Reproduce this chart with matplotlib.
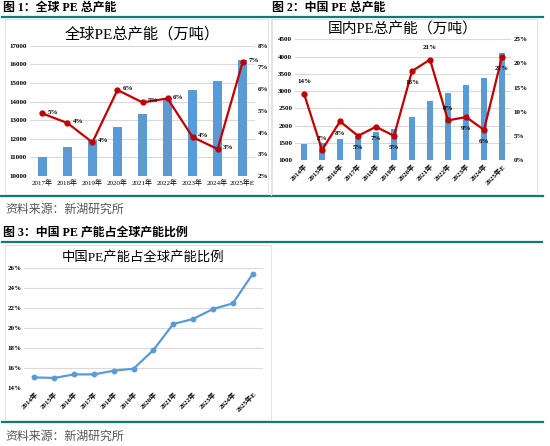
import matplotlib.pyplot as plt
from matplotlib.ticker import FuncFormatter

plt.rcParams['font.family'] = ['Liberation Serif', 'Noto Sans CJK SC', 'DejaVu Sans']

# 图1 全球PE总产能
years1 = ["2017年", "2018年", "2019年", "2020年", "2021年", "2022年", "2023年", "2024年", "2025年E"]
cap1 = [11040, 11540, 11930, 12650, 13330, 14200, 14620, 15100, 16230]
growth1 = [4.88, 4.44, 3.55, 5.96, 5.39, 5.57, 3.79, 3.24, 7.25]

# 图2 国内PE总产能
years2 = ["2014年", "2015年", "2016年", "2017年", "2018年", "2019年", "2020年", "2021年",
          "2022年", "2023年", "2024年", "2025年E"]
cap2 = [1454, 1500, 1609, 1700, 1812, 1909, 2238, 2712, 2934, 3186, 3389, 4095]
growth2 = [13.75, 2.08, 7.99, 5.0, 6.88, 5.0, 18.4, 20.8, 8.2, 8.9, 6.25, 21.4]
label_side2 = [1, 1, -1, -1, -1, -1, -1, 1, 1, -1, -1, -1]

# 图3 中国PE产能占全球产能比例
share3 = [15.03, 14.97, 15.33, 15.33, 15.7, 15.9, 17.77, 20.37, 20.87, 21.87, 22.43, 25.37]

W, H = 550, 446
BLUE = '#5b9bd5'
RED = '#c00000'
TEAL = '#0e7c74'
GRID = '#d9d9d9'
CJK = ['Liberation Serif', 'Noto Sans CJK SC']

fig = plt.figure(figsize=(W / 100, H / 100), dpi=100)


def add_ax(l, t, r, b):
    return fig.add_axes([l / W, 1 - b / H, (r - l) / W, (b - t) / H])


def style(ax):
    for s in ax.spines.values():
        s.set_visible(False)
    ax.tick_params(length=0, labelsize=5, pad=2)
    for lab in ax.get_yticklabels():
        lab.set_fontweight('bold')


pct = FuncFormatter(lambda v, p: f"{v:.0f}%")

# ---- panel 1
ax1 = add_ax(29.8, 45.7, 255.2, 176)
x1 = range(len(years1))
ax1.bar(x1, cap1, width=0.35, color=BLUE, zorder=2)
ax1.set_ylim(10000, 17000)
ax1.set_xlim(-0.5, len(years1) - 0.5)
ax1.set_yticks(range(10000, 17001, 1000))
ax1.grid(axis='y', color=GRID, lw=0.8, zorder=0)
ax1.set_axisbelow(True)
ax1.set_xticks(list(x1))
ax1.set_xticklabels(years1, fontsize=5.5, family=CJK)
style(ax1)
t1 = ax1.twinx()
t1.plot(x1, growth1, color=RED, lw=1.6, marker='o', ms=3.5, zorder=3)
t1.set_ylim(2, 8)
t1.yaxis.set_major_formatter(pct)
style(t1)
for i, g in enumerate(growth1):
    t1.annotate(f"{g:.0f}%", (i, g), xytext=(4, 1), textcoords='offset points',
                ha='left', va='center', fontsize=5, fontweight='bold')
ax1.set_title("全球PE总产能（万吨）", fontsize=11, family=CJK, pad=5)

# ---- panel 2
ax2 = add_ax(295, 39.3, 511, 160)
x2 = range(len(years2))
ax2.bar(x2, cap2, width=0.35, color=BLUE, zorder=2)
ax2.set_ylim(1000, 4500)
ax2.set_xlim(-0.5, len(years2) - 0.5)
ax2.set_yticks(range(1000, 4501, 500))
ax2.grid(axis='y', color=GRID, lw=0.8, zorder=0)
ax2.set_axisbelow(True)
ax2.set_xticks(list(x2))
ax2.set_xticklabels(years2, fontsize=5, family=CJK, fontweight='bold',
                    rotation=45, ha='right', rotation_mode='anchor')
style(ax2)
t2 = ax2.twinx()
t2.plot(x2, growth2, color=RED, lw=1.6, marker='o', ms=3.5, zorder=3)
t2.set_ylim(0, 25)
t2.set_yticks(range(0, 26, 5))
t2.yaxis.set_major_formatter(pct)
style(t2)
for i, (g, s) in enumerate(zip(growth2, label_side2)):
    t2.annotate(f"{g:.0f}%", (i, g), xytext=(0, 8.5 * s), textcoords='offset points',
                ha='center', va='center', fontsize=5, fontweight='bold')
ax2.set_title("国内PE总产能（万吨）", fontsize=10.6, family=CJK, pad=4)

# ---- panel 3
ax3 = add_ax(24.4, 267.7, 262.6, 387.7)
x3 = range(len(years2))
ax3.plot(x3, share3, color=BLUE, lw=1.6, marker='o', ms=3.2)
ax3.set_ylim(14, 26)
ax3.set_xlim(-0.5, len(years2) - 0.5)
ax3.set_yticks(range(14, 27, 2))
ax3.yaxis.set_major_formatter(pct)
ax3.grid(axis='y', color=GRID, lw=0.8)
ax3.set_xticks(list(x3))
ax3.set_xticklabels(years2, fontsize=5, family=CJK, fontweight='bold',
                    rotation=45, ha='right', rotation_mode='anchor')
style(ax3)
ax3.set_title("中国PE产能占全球产能比例", fontsize=9.6, family=CJK, pad=5)

# ---- page decoration: headers, rules, boxes, source
ov = fig.add_axes([0, 0, 1, 1], zorder=-1)
ov.set_xlim(0, W)
ov.set_ylim(H, 0)
ov.axis('off')
for y, x0, x1_ in [(16.5, 2, 543), (196, 0, 543), (242, 2, 542), (422, 2, 543)]:
    ov.plot([x0, x1_], [y, y], color=TEAL, lw=1.6)
for (l, t, r, b) in [(5, 19, 268, 194), (272, 19, 537, 194), (5, 245, 271, 420)]:
    ov.plot([l, r, r, l, l], [t, t, b, b, t], color='#e3e3e3', lw=0.7)
ov.plot([270.7, 270.7], [17.5, 195], color='#e3e3e3', lw=0.7)
ov.text(3, 8, "图 1：全球 PE 总产能", fontsize=8.6, fontweight='bold', family=CJK, va='center')
ov.text(272, 8, "图 2：中国 PE 总产能", fontsize=8.6, fontweight='bold', family=CJK, va='center')
ov.text(3, 233, "图 3：中国 PE 产能占全球产能比例", fontsize=8.6, fontweight='bold', family=CJK, va='center')
ov.text(5, 210, "资料来源：新湖研究所", fontsize=8.6, color='#555555', family=CJK, va='center')
ov.text(5, 437, "资料来源：新湖研究所", fontsize=8.6, color='#555555', family=CJK, va='center')

fig.savefig("out.png", dpi=100)
